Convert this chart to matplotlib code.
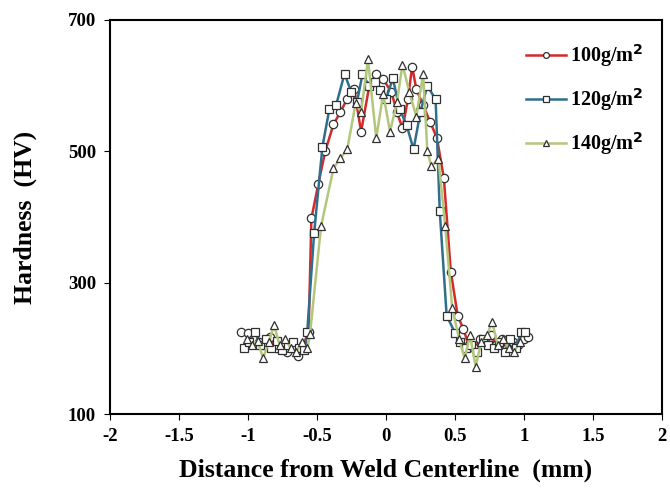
import matplotlib.pyplot as plt
import numpy as np

plt.rcParams['font.family'] = ['Liberation Serif', 'DejaVu Serif']
plt.rcParams['font.weight'] = 'bold'

# 100 g/m2 (circles)
x100 = [-1.05, -1.0, -0.96, -0.92, -0.88, -0.84, -0.8, -0.76, -0.72, -0.68, -0.64, -0.6,
        -0.56, -0.54, -0.49, -0.44, -0.38, -0.33, -0.28, -0.23, -0.18, -0.12, -0.07, -0.02,
        0.04, 0.08, 0.12, 0.16, 0.19, 0.22, 0.27, 0.32, 0.37, 0.42, 0.47, 0.52, 0.56, 0.6,
        0.64, 0.68, 0.72, 0.76, 0.8, 0.84, 0.88, 0.92, 0.96, 1.0, 1.03]
h100 = [225, 223, 215, 210, 205, 218, 200, 207, 195, 200, 188, 205,
        225, 398, 450, 500, 541, 560, 580, 595, 530, 600, 618, 610,
        590, 560, 535, 580, 629, 595, 570, 545, 520, 459, 317, 250, 230, 205,
        200, 215, 210, 220, 205, 215, 200, 210, 205, 215, 218]

# 120 g/m2 (squares)
x120 = [-1.03, -0.99, -0.95, -0.91, -0.87, -0.83, -0.79, -0.75, -0.71, -0.67, -0.63, -0.59,
        -0.57, -0.52, -0.46, -0.41, -0.36, -0.30, -0.25, -0.21, -0.17, -0.12, -0.08, -0.04,
        0.0, 0.05, 0.1, 0.15, 0.2, 0.25, 0.3, 0.36, 0.39, 0.44, 0.5, 0.54, 0.58, 0.62,
        0.66, 0.7, 0.74, 0.78, 0.82, 0.86, 0.9, 0.94, 0.98, 1.01]
h120 = [200, 210, 225, 205, 215, 200, 212, 198, 205, 210, 200, 198,
        225, 376, 507, 564, 571, 618, 590, 575, 617, 600, 605, 594,
        579, 611, 564, 540, 503, 560, 600, 579, 409, 250, 224, 210, 200, 205,
        195, 215, 205, 200, 210, 195, 215, 200, 225, 225]

# 140 g/m2 (triangles)
x140 = [-1.01, -0.97, -0.93, -0.89, -0.85, -0.81, -0.77, -0.73, -0.69, -0.65, -0.61, -0.57,
        -0.55, -0.47, -0.38, -0.33, -0.28, -0.22, -0.18, -0.13, -0.07, -0.02, 0.03, 0.08,
        0.12, 0.17, 0.22, 0.27, 0.3, 0.33, 0.38, 0.43, 0.48, 0.53, 0.57, 0.61, 0.65, 0.69,
        0.73, 0.77, 0.81, 0.85, 0.89, 0.93, 0.97]
h140 = [215, 205, 212, 185, 210, 235, 205, 215, 200, 195, 210, 200,
        222, 386, 474, 490, 503, 573, 560, 640, 520, 588, 530, 575,
        632, 590, 553, 618, 500, 477, 489, 386, 262, 215, 185, 220, 172, 210,
        220, 240, 205, 215, 200, 195, 210]

fig = plt.figure(figsize=(6.7, 4.99), dpi=100)
ax = fig.add_axes([0.164, 0.17, 0.824, 0.79])

mk = dict(markerfacecolor='white', markeredgecolor='#303030', markersize=6,
          markeredgewidth=0.9, linewidth=1.8)
ax.plot(x100, h100, '-o', color='#d42a2a', label='100g/m$^2$', **mk)
ax.plot(x120, h120, '-s', color='#2f6f8c', label='120g/m$^2$', **mk)
ax.plot(x140, h140, '-^', color='#b3c77c', label='140g/m$^2$', **mk)

ax.set_xlim(-2, 2)
ax.set_ylim(100, 700)
ax.set_xticks(np.arange(-2, 2.01, 0.5))
ax.set_xticklabels(['-2', '-1.5', '-1', '-0.5', '0', '0.5', '1', '1.5', '2'])
ax.set_yticks([100, 300, 500, 700])
ax.tick_params(labelsize=13.5, direction='out', length=4, pad=6)
for s in ax.spines.values():
    s.set_linewidth(1.5)

ax.set_ylabel('Hardness  (HV)', fontsize=18.5, fontweight='bold', labelpad=22)
ax.set_xlabel('Distance from Weld Centerline  (mm)', fontsize=18.5, fontweight='bold', labelpad=10)

leg = ax.legend(loc='upper right', frameon=False, fontsize=14.5, handlelength=2.0,
                handletextpad=0.2, labelspacing=0.85, markerscale=0.7,
                bbox_to_anchor=(1.0, 0.99))

fig.savefig('out.png', dpi=100)
